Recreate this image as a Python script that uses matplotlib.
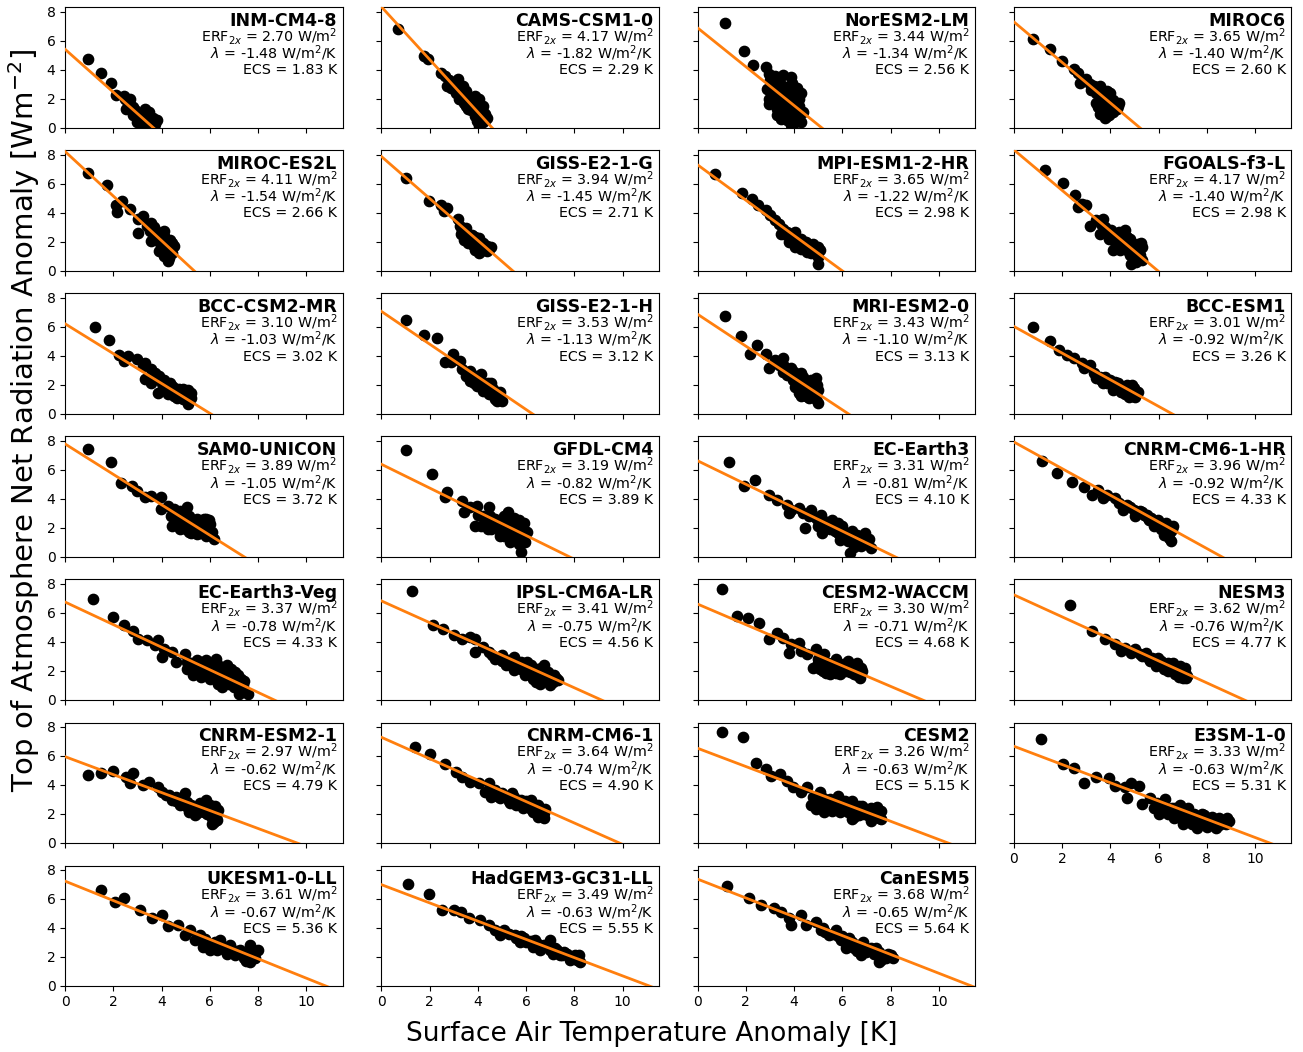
import matplotlib.pyplot as plt
import numpy as np

models = ['INM-CM4-8', 'CAMS-CSM1-0', 'NorESM2-LM', 'MIROC6',
          'MIROC-ES2L', 'GISS-E2-1-G', 'MPI-ESM1-2-HR', 'FGOALS-f3-L',
          'BCC-CSM2-MR', 'GISS-E2-1-H', 'MRI-ESM2-0', 'BCC-ESM1',
          'SAM0-UNICON', 'GFDL-CM4', 'EC-Earth3', 'CNRM-CM6-1-HR',
          'EC-Earth3-Veg', 'IPSL-CM6A-LR', 'CESM2-WACCM', 'NESM3',
          'CNRM-ESM2-1', 'CNRM-CM6-1', 'CESM2', 'E3SM-1-0',
          'UKESM1-0-LL', 'HadGEM3-GC31-LL', 'CanESM5']
erf2x = [2.70, 4.17, 3.44, 3.65, 4.11, 3.94, 3.65, 4.17, 3.10, 3.53, 3.43, 3.01,
         3.89, 3.19, 3.31, 3.96, 3.37, 3.41, 3.30, 3.62, 2.97, 3.64, 3.26, 3.33,
         3.61, 3.49, 3.68]
lam = [-1.48, -1.82, -1.34, -1.40, -1.54, -1.45, -1.22, -1.40, -1.03, -1.13, -1.10, -0.92,
       -1.05, -0.82, -0.81, -0.92, -0.78, -0.75, -0.71, -0.76, -0.62, -0.74, -0.63, -0.63,
       -0.67, -0.63, -0.65]
ecs = [1.83, 2.29, 2.56, 2.60, 2.66, 2.71, 2.98, 2.98, 3.02, 3.12, 3.13, 3.26,
       3.72, 3.89, 4.10, 4.33, 4.33, 4.56, 4.68, 4.77, 4.79, 4.90, 5.15, 5.31,
       5.36, 5.55, 5.64]

# (surface air temperature anomaly [K], TOA net radiation anomaly [W/m2]) per model
points = [
    # INM-CM4-8
    [(0.96, 4.72), (1.48, 3.76), (1.91, 3.11), (2.09, 2.24), (2.43, 2.19), (2.6, 1.7), (2.8, 1.4),
     (2.87, 1.04), (3.05, 0.92), (3.13, 0.58), (3.3, 0.69), (3.4, 0.35), (3.56, 0.12), (3.65, 0.69),
     (3.74, 0.23), (3.22, 0.12), (2.96, 0.35), (3.48, 1.04), (2.7, 1.96), (2.52, 1.27), (3.3, 1.27),
     (3.8, 0.5), (2.5, 2.0), (2.7, 1.6), (2.9, 1.2), (3.1, 0.9), (3.2, 0.5), (3.4, 0.8), (3.5, 0.4),
     (3.6, 0.2), (3.7, 0.1), (3.35, 0.05), (3.0, 0.6), (2.8, 0.9), (3.55, 0.55)],
    # CAMS-CSM1-0
    [(0.7, 6.8), (1.77, 4.95), (1.95, 4.72), (2.47, 3.80), (2.64, 3.57), (2.73, 2.88), (3.0, 3.11),
     (3.17, 3.34), (3.25, 2.76), (3.08, 2.42), (3.34, 2.19), (3.5, 2.53), (3.69, 1.96), (3.86, 2.19),
     (4.03, 1.96), (4.21, 1.5), (4.3, 0.92), (4.21, 0.35), (4.03, 0.12), (3.86, 0.81), (3.6, 1.27),
     (3.77, 1.5), (3.43, 1.73), (4.12, 1.04), (3.95, 0.46), (4.38, 0.69), (2.8, 3.3), (2.9, 2.7),
     (3.1, 2.7), (3.3, 2.5), (3.4, 2.9), (3.6, 2.2), (3.7, 1.7), (3.9, 1.7), (4.0, 1.4), (4.1, 0.8),
     (4.2, 1.1), (4.3, 0.5), (3.9, 1.1), (3.7, 1.2), (4.1, 0.3), (3.5, 1.5), (3.2, 2.0)],
    # NorESM2-LM
    [(1.15, 7.21), (1.92, 5.30), (2.31, 4.31), (2.82, 4.15), (2.94, 3.69), (3.19, 3.57), (3.53, 3.62),
     (3.87, 3.46), (4.13, 2.76), (4.30, 2.42), (4.21, 1.96), (4.38, 1.04), (4.30, 0.35), (3.87, 0.16),
     (3.45, 0.58), (3.28, 1.27), (2.94, 1.96), (2.89, 2.65), (3.1, 2.9), (3.53, 2.88), (3.8, 2.19),
     (3.53, 1.73), (3.87, 1.5), (3.96, 0.8), (3.6, 0.9), (3.28, 1.96), (3.7, 2.53), (4.04, 1.96),
     (3.1, 2.2), (3.36, 3.23), (3.0, 3.3), (3.2, 3.0), (3.4, 2.6), (3.6, 2.4), (3.9, 2.8), (4.1, 2.3),
     (3.0, 2.5), (3.2, 1.6), (3.4, 1.3), (3.7, 1.2), (4.0, 1.2), (4.2, 0.6), (4.0, 0.3), (3.7, 0.5),
     (3.5, 2.0), (3.9, 3.1), (4.2, 1.5), (3.3, 0.9), (2.95, 1.6)],
    # MIROC6
    [(0.80, 6.11), (1.49, 5.41), (2.0, 4.61), (2.48, 4.03), (2.65, 3.80), (2.99, 3.34), (3.16, 3.0),
     (2.74, 3.11), (3.33, 2.88), (3.59, 2.88), (3.5, 2.42), (3.68, 2.19), (3.85, 2.53), (3.93, 1.96),
     (4.02, 1.61), (4.19, 1.73), (4.27, 1.27), (4.1, 1.04), (3.85, 0.81), (3.59, 0.92), (3.68, 1.38),
     (3.42, 1.73), (4.36, 1.73), (3.93, 1.27), (3.76, 0.69), (3.2, 2.6), (3.4, 2.4), (3.6, 2.6),
     (3.7, 1.9), (3.8, 1.6), (3.9, 2.2), (4.0, 1.3), (4.1, 1.9), (4.2, 1.5), (3.95, 0.9), (3.7, 1.1),
     (3.5, 1.4), (4.3, 1.5), (4.0, 2.4)],
    # MIROC-ES2L
    [(0.96, 6.75), (1.74, 5.94), (2.09, 4.56), (2.17, 4.03), (2.35, 4.79), (2.7, 4.22), (3.04, 3.53),
     (3.22, 3.76), (3.04, 2.60), (3.39, 3.06), (3.57, 3.29), (3.74, 2.83), (3.91, 2.60), (3.83, 2.14),
     (4.09, 2.37), (4.17, 1.91), (4.0, 1.68), (4.26, 1.45), (4.17, 0.99), (4.26, 0.65), (4.43, 1.22),
     (4.52, 1.68), (3.91, 1.34), (4.09, 0.99), (3.57, 2.03), (4.35, 2.14), (3.7, 3.0), (3.8, 2.4),
     (4.0, 2.2), (4.1, 2.7), (4.2, 2.2), (4.3, 1.8), (4.4, 1.5), (4.1, 1.4), (4.2, 1.2), (4.3, 0.9),
     (3.95, 1.9), (4.45, 1.9), (3.5, 2.7)],
    # GISS-E2-1-G
    [(1.04, 6.41), (1.98, 4.79), (2.47, 4.56), (2.73, 4.33), (2.61, 4.10), (3.17, 3.53), (3.25, 3.06),
     (3.34, 2.72), (3.5, 2.95), (3.6, 2.37), (3.43, 2.14), (3.69, 1.91), (3.86, 2.14), (4.03, 2.26),
     (4.21, 1.91), (4.38, 1.68), (4.56, 1.62), (4.21, 1.45), (3.86, 1.45), (4.03, 1.22), (4.38, 1.33),
     (3.77, 2.49), (3.3, 2.5), (3.5, 2.6), (3.6, 2.1), (3.8, 1.8), (3.9, 2.3), (4.0, 1.7), (4.1, 2.0),
     (4.2, 1.7), (4.3, 1.5), (4.45, 1.5), (4.1, 1.35), (3.6, 1.9), (3.95, 1.55)],
    # MPI-ESM1-2-HR
    [(0.73, 6.64), (1.83, 5.37), (2.26, 4.91), (2.51, 4.52), (2.85, 4.17), (3.02, 3.82), (3.19, 3.48),
     (3.36, 3.25), (3.53, 2.9), (3.45, 2.56), (3.7, 2.67), (3.87, 2.33), (4.04, 2.67), (4.13, 2.21),
     (4.04, 1.64), (4.38, 1.98), (4.55, 1.75), (4.63, 1.41), (4.8, 1.87), (4.89, 1.41), (5.06, 1.41),
     (4.97, 0.94), (4.97, 0.48), (4.72, 1.18), (4.29, 1.52), (3.79, 1.98), (3.6, 2.5), (3.8, 2.5),
     (4.0, 2.3), (4.2, 1.9), (4.3, 2.2), (4.5, 2.0), (4.6, 1.6), (4.7, 1.5), (4.85, 1.6), (4.95, 1.2),
     (5.0, 1.65), (4.55, 1.3), (4.2, 1.7), (4.1, 1.8)],
    # FGOALS-f3-L
    [(1.28, 6.94), (2.05, 6.08), (2.53, 5.21), (2.65, 4.40), (2.82, 4.63), (2.99, 4.52), (3.16, 3.06),
     (3.42, 3.48), (3.68, 3.59), (3.76, 3.02), (3.59, 2.56), (4.02, 2.79), (3.93, 2.21), (4.19, 2.33),
     (4.36, 2.67), (4.62, 2.79), (4.7, 2.33), (4.87, 1.98), (5.13, 1.87), (5.3, 1.64), (5.04, 1.41),
     (5.21, 1.06), (4.96, 0.83), (5.3, 0.71), (4.7, 1.41), (4.36, 1.75), (4.1, 1.41), (4.87, 0.48),
     (4.53, 2.1), (3.6, 3.2), (3.8, 2.7), (4.0, 2.5), (4.2, 2.0), (4.3, 2.4), (4.5, 2.3), (4.6, 1.9),
     (4.8, 2.2), (4.9, 1.6), (5.0, 1.8), (5.1, 1.4), (5.2, 1.2), (5.1, 0.9), (4.8, 1.1), (4.6, 1.5),
     (4.4, 1.4), (5.25, 1.9), (4.95, 1.2), (5.05, 0.6)],
    # BCC-CSM2-MR
    [(1.22, 6.01), (1.83, 5.07), (2.23, 4.03), (2.43, 3.64), (2.61, 3.99), (2.96, 3.76), (3.22, 3.29),
     (3.3, 3.52), (3.3, 2.42), (3.57, 3.06), (3.74, 2.83), (3.91, 2.60), (4.0, 2.14), (3.83, 1.45),
     (4.17, 1.68), (4.35, 2.14), (4.43, 1.91), (4.61, 1.68), (4.78, 1.57), (4.96, 1.45), (5.13, 1.22),
     (5.22, 1.45), (5.1, 0.65), (4.87, 0.99), (4.26, 1.34), (4.52, 1.22), (3.57, 2.14), (3.9, 2.4),
     (4.1, 2.3), (4.3, 1.9), (4.5, 1.8), (4.4, 1.5), (4.7, 1.7), (4.8, 1.3), (4.9, 1.7), (5.0, 1.1),
     (5.1, 1.6), (5.2, 1.1), (4.65, 1.1), (3.7, 2.5), (4.05, 1.9)],
    # GISS-E2-1-H
    [(1.04, 6.47), (1.77, 5.41), (2.3, 5.25), (2.96, 4.1), (2.64, 3.53), (2.9, 3.53), (3.25, 3.64),
     (3.34, 3.06), (3.5, 2.60), (3.69, 2.95), (3.86, 2.60), (4.03, 2.26), (3.95, 1.91), (4.21, 2.14),
     (4.38, 1.91), (4.56, 2.14), (4.64, 1.68), (4.82, 1.45), (4.9, 1.11), (4.99, 0.88), (4.73, 0.99),
     (4.47, 1.34), (4.21, 1.57), (3.69, 2.26), (4.12, 2.72), (3.6, 2.7), (3.8, 2.4), (4.0, 2.4),
     (4.1, 2.0), (4.3, 1.8), (4.4, 2.1), (4.5, 1.6), (4.6, 1.4), (4.7, 1.2), (4.85, 1.2), (4.9, 1.5),
     (4.4, 1.55), (4.8, 0.85), (3.85, 2.1)],
    # MRI-ESM2-0
    [(1.12, 6.77), (1.8, 5.39), (2.17, 4.12), (2.48, 4.75), (2.85, 4.10), (2.94, 3.13), (3.19, 3.71),
     (3.36, 3.36), (3.53, 3.82), (3.53, 2.90), (3.7, 2.67), (3.87, 3.13), (3.96, 2.33), (4.13, 2.10),
     (4.3, 2.79), (4.38, 2.56), (4.38, 1.87), (4.21, 1.41), (4.55, 1.64), (4.63, 1.06), (4.8, 1.18),
     (4.89, 2.44), (4.97, 1.64), (4.97, 0.71), (4.8, 1.98), (4.04, 1.87), (3.6, 3.3), (3.8, 2.7),
     (3.9, 2.5), (4.0, 2.9), (4.2, 2.3), (4.3, 2.1), (4.5, 2.2), (4.4, 1.6), (4.6, 1.9), (4.7, 1.4),
     (4.8, 1.6), (4.9, 1.0), (4.5, 1.2), (4.7, 2.3), (4.95, 2.0), (4.3, 1.2)],
    # BCC-ESM1
    [(0.80, 5.97), (1.49, 4.98), (1.88, 4.40), (2.22, 4.06), (2.48, 3.82), (2.82, 3.48), (2.91, 3.13),
     (3.16, 3.36), (3.33, 2.79), (3.59, 2.56), (3.76, 2.56), (3.85, 2.10), (4.02, 2.10), (4.19, 2.21),
     (4.36, 1.98), (4.53, 1.87), (4.7, 1.75), (4.96, 1.75), (5.13, 1.52), (5.04, 1.18), (4.79, 1.18),
     (4.44, 1.52), (4.1, 1.64), (3.68, 2.10), (3.42, 2.44), (3.6, 2.3), (3.9, 2.3), (4.1, 1.9),
     (4.3, 2.1), (4.4, 1.7), (4.6, 1.65), (4.7, 1.95), (4.85, 1.5), (4.9, 1.95), (5.05, 1.4),
     (4.6, 1.35), (4.95, 1.25), (4.0, 2.35)],
    # SAM0-UNICON
    [(0.96, 7.44), (1.91, 6.57), (2.31, 5.09), (2.78, 4.91), (2.96, 4.56), (3.3, 4.10), (3.57, 4.22),
     (3.97, 4.10), (3.97, 3.29), (4.26, 3.53), (4.52, 3.29), (4.78, 3.18), (5.04, 3.41), (4.61, 2.72),
     (4.96, 2.49), (4.78, 1.91), (5.13, 1.68), (5.39, 2.14), (5.48, 2.60), (5.83, 2.60), (6.0, 2.26),
     (6.09, 1.68), (5.83, 1.45), (5.48, 1.57), (5.3, 2.37), (5.65, 2.14), (6.17, 1.22), (4.43, 2.14),
     (5.13, 2.83), (4.4, 2.8), (4.6, 3.1), (4.8, 2.7), (4.9, 2.2), (5.0, 1.9), (5.1, 2.5), (5.2, 2.1),
     (5.3, 1.8), (5.4, 2.4), (5.6, 2.4), (5.7, 1.8), (5.9, 2.0), (6.0, 1.5), (5.6, 1.6), (5.2, 1.6),
     (5.95, 2.5), (5.75, 2.6), (4.7, 2.3)],
    # GFDL-CM4
    [(1.04, 7.33), (2.09, 5.71), (2.64, 4.10), (2.73, 4.45), (3.34, 3.87), (3.69, 3.41), (3.43, 3.06),
     (3.95, 3.53), (3.86, 2.14), (4.21, 2.83), (4.38, 2.37), (4.47, 3.41), (4.56, 1.91), (4.73, 2.60),
     (4.99, 2.14), (5.08, 2.83), (5.25, 1.68), (5.43, 2.37), (5.51, 1.22), (5.6, 1.91), (5.77, 2.14),
     (5.86, 1.45), (5.95, 0.99), (5.77, 0.35), (5.69, 0.88), (6.03, 1.68), (5.34, 0.99), (4.9, 1.45),
     (4.12, 2.14), (5.25, 3.06), (4.0, 2.9), (4.3, 2.6), (4.5, 2.8), (4.6, 2.2), (4.8, 2.3), (4.9, 1.8),
     (5.0, 2.5), (5.1, 1.9), (5.2, 2.3), (5.3, 2.6), (5.4, 1.6), (5.5, 2.0), (5.6, 1.5), (5.7, 1.7),
     (5.8, 1.2), (5.9, 1.8), (5.5, 2.7), (5.1, 1.4), (4.4, 1.9), (5.9, 2.3), (5.7, 2.5)],
    # EC-Earth3
    [(1.29, 6.54), (1.92, 4.91), (2.38, 5.28), (2.94, 4.29), (3.28, 3.94), (3.7, 3.59), (3.87, 3.25),
     (3.79, 3.02), (4.21, 3.36), (4.38, 3.02), (4.47, 1.98), (4.72, 3.25), (4.89, 2.67), (4.97, 2.10),
     (5.23, 2.44), (5.4, 2.33), (5.57, 2.56), (5.65, 2.10), (5.82, 1.64), (5.99, 2.10), (6.16, 1.41),
     (6.25, 1.06), (6.42, 1.52), (6.59, 1.18), (6.76, 0.71), (6.93, 1.64), (7.01, 1.06), (7.18, 0.60),
     (6.33, 0.25), (5.91, 1.18), (5.14, 1.64), (4.6, 2.8), (5.0, 2.5), (5.1, 2.9), (5.3, 2.1),
     (5.5, 1.9), (5.7, 1.8), (5.9, 1.6), (6.0, 1.9), (6.1, 1.6), (6.3, 1.3), (6.4, 1.8), (6.5, 1.1),
     (6.6, 1.5), (6.7, 0.9), (6.85, 1.3), (6.9, 0.9), (7.1, 1.2), (6.5, 0.7), (5.8, 2.3), (5.5, 2.2)],
    # CNRM-CM6-1-HR
    [(1.15, 6.6), (1.79, 5.80), (2.39, 5.18), (2.91, 4.84), (3.25, 4.27), (3.5, 4.61), (3.85, 4.27),
     (4.19, 4.04), (4.36, 3.71), (4.7, 3.59), (4.96, 3.25), (5.21, 3.13), (5.38, 2.90), (5.56, 2.67),
     (5.73, 2.56), (5.98, 2.56), (6.15, 2.21), (6.32, 1.98), (6.5, 1.75), (6.5, 1.06), (6.24, 1.52),
     (6.58, 2.10), (5.81, 2.10), (5.04, 2.79), (4.53, 3.25), (3.68, 4.04), (4.8, 3.4), (5.1, 3.0),
     (5.3, 3.1), (5.5, 2.85), (5.7, 2.7), (5.9, 2.4), (6.0, 2.2), (6.2, 2.0), (6.3, 2.3), (6.4, 1.7),
     (6.45, 1.3), (6.1, 1.9), (5.6, 2.5), (6.55, 1.9)],
    # EC-Earth3-Veg
    [(1.17, 6.94), (1.97, 5.71), (2.43, 5.18), (2.83, 4.72), (3.04, 4.22), (3.39, 4.10), (3.83, 4.10),
     (3.74, 3.76), (4.09, 3.53), (4.0, 2.95), (4.43, 3.29), (4.96, 3.18), (5.04, 2.14), (4.61, 2.60),
     (5.48, 2.76), (5.65, 2.60), (5.83, 2.72), (6.0, 2.26), (6.26, 2.83), (6.35, 2.37), (6.43, 1.91),
     (5.65, 1.57), (6.0, 1.45), (6.35, 1.11), (6.70, 2.37), (6.87, 2.14), (7.04, 1.91), (7.30, 1.45),
     (7.39, 0.99), (7.22, 0.41), (7.57, 0.41), (6.78, 1.11), (6.52, 0.88), (5.3, 1.68), (5.04, 2.60),
     (5.2, 2.5), (5.4, 2.3), (5.6, 2.2), (5.8, 2.3), (5.9, 1.9), (6.1, 2.0), (6.2, 1.6), (6.4, 1.5),
     (6.6, 1.9), (6.7, 1.6), (6.8, 1.5), (6.9, 1.8), (7.1, 1.4), (7.2, 1.1), (7.0, 0.9), (7.35, 0.7),
     (6.6, 1.3), (7.4, 1.3), (7.15, 1.7), (6.15, 2.5)],
    # IPSL-CM6A-LR
    [(1.25, 7.49), (2.12, 5.18), (2.56, 4.91), (3.0, 4.45), (3.34, 4.22), (3.69, 4.33), (3.86, 4.22),
     (3.86, 3.29), (4.21, 3.64), (4.47, 3.29), (4.73, 2.83), (4.99, 3.06), (5.25, 2.72), (5.51, 2.95),
     (5.6, 2.49), (5.77, 2.14), (6.03, 2.60), (6.21, 2.37), (6.47, 2.14), (6.73, 2.37), (6.9, 1.91),
     (6.82, 1.45), (7.17, 1.68), (7.34, 1.34), (6.99, 0.99), (6.56, 1.11), (5.95, 1.68), (6.3, 1.45),
     (5.51, 2.03), (5.16, 2.37), (4.6, 3.1), (5.0, 2.7), (5.3, 2.5), (5.4, 2.3), (5.6, 2.2), (5.8, 2.6),
     (5.9, 2.0), (6.1, 2.1), (6.2, 1.8), (6.4, 1.9), (6.5, 1.6), (6.6, 2.2), (6.7, 1.7), (6.8, 2.0),
     (6.9, 1.3), (7.0, 1.6), (7.1, 1.2), (7.25, 1.5), (6.4, 1.2), (6.0, 2.3)],
    # CESM2-WACCM
    [(1.02, 7.67), (1.63, 5.78), (2.09, 5.67), (2.55, 5.28), (2.94, 4.17), (3.28, 4.59), (3.53, 4.29),
     (3.79, 3.25), (3.87, 3.83), (4.21, 3.94), (4.3, 3.36), (4.55, 3.13), (4.89, 3.48), (4.97, 2.79),
     (5.06, 2.10), (5.23, 3.13), (5.4, 2.56), (5.48, 1.98), (5.74, 2.79), (5.91, 2.10), (6.08, 2.44),
     (6.25, 2.67), (6.42, 2.10), (6.59, 2.56), (6.76, 2.21), (6.73, 1.52), (6.5, 1.75), (5.74, 1.87),
     (5.31, 1.87), (4.8, 2.21), (5.0, 2.5), (5.2, 2.3), (5.3, 2.1), (5.5, 2.3), (5.6, 2.5), (5.7, 2.1),
     (5.8, 2.5), (6.0, 2.3), (6.1, 2.0), (6.2, 2.3), (6.3, 1.9), (6.4, 2.4), (6.5, 2.0), (6.6, 2.2),
     (6.7, 1.9), (6.8, 2.0), (6.6, 1.7), (5.5, 1.8), (5.9, 1.8), (5.2, 2.0)],
    # NESM3
    [(2.31, 6.54), (3.25, 4.75), (3.76, 4.17), (4.19, 3.82), (4.62, 3.59), (5.04, 3.48), (5.21, 3.13),
     (5.47, 3.25), (5.73, 2.90), (5.98, 2.90), (6.15, 2.56), (6.41, 2.56), (6.58, 2.33), (6.75, 2.21),
     (6.92, 1.98), (7.09, 2.21), (7.18, 1.64), (7.01, 1.52), (6.67, 1.75), (6.24, 2.10), (5.64, 2.67),
     (4.87, 3.25), (4.44, 3.36), (5.3, 3.0), (5.6, 2.8), (5.9, 2.6), (6.1, 2.7), (6.3, 2.3), (6.5, 2.1),
     (6.6, 2.5), (6.7, 2.0), (6.8, 1.8), (6.9, 2.3), (7.0, 1.8), (7.1, 1.9), (7.15, 1.5), (6.85, 1.55),
     (6.4, 1.95), (5.9, 2.3)],
    # CNRM-ESM2-1
    [(0.96, 4.68), (1.48, 4.79), (1.97, 4.95), (2.52, 4.56), (2.83, 4.79), (2.70, 4.10), (3.22, 3.99),
     (3.48, 4.22), (3.83, 3.87), (4.0, 3.53), (4.17, 3.29), (4.43, 2.95), (4.61, 3.18), (4.96, 3.41),
     (5.04, 2.83), (5.13, 2.14), (5.3, 2.37), (5.57, 2.72), (5.83, 2.95), (6.0, 2.60), (6.09, 2.14),
     (6.26, 1.80), (6.17, 1.45), (6.35, 2.26), (5.74, 2.14), (5.48, 2.03), (4.78, 2.60), (4.3, 3.3),
     (4.6, 2.9), (4.8, 2.8), (5.0, 2.5), (5.2, 2.6), (5.3, 2.1), (5.5, 2.4), (5.6, 2.2), (5.7, 2.5),
     (5.8, 2.3), (5.9, 2.0), (6.0, 1.9), (6.1, 1.7), (6.2, 2.5), (6.3, 1.6), (6.1, 1.3), (5.4, 1.9),
     (6.25, 2.0)],
    # CNRM-CM6-1
    [(1.39, 6.64), (2.03, 6.11), (2.64, 5.41), (3.08, 4.91), (3.34, 4.56), (3.69, 4.22), (4.03, 4.10),
     (4.47, 4.10), (4.56, 3.18), (4.73, 3.64), (4.99, 3.41), (5.25, 3.06), (5.51, 3.18), (5.77, 2.95),
     (5.95, 2.72), (6.21, 2.95), (6.38, 2.60), (6.56, 2.37), (6.73, 2.03), (6.73, 1.68), (6.3, 2.14),
     (5.86, 2.37), (5.34, 2.72), (4.9, 3.06), (4.29, 3.53), (4.8, 3.2), (5.1, 3.2), (5.3, 2.9),
     (5.5, 2.8), (5.6, 2.6), (5.7, 2.7), (5.9, 2.5), (6.0, 2.9), (6.1, 2.6), (6.2, 2.3), (6.3, 2.4),
     (6.4, 2.1), (6.5, 2.6), (6.6, 2.2), (6.65, 1.9), (6.5, 1.8), (6.8, 2.3), (5.4, 3.4)],
    # CESM2
    [(1.02, 7.67), (1.87, 7.28), (2.43, 5.51), (2.82, 5.09), (3.06, 4.63), (3.40, 4.75), (3.70, 4.29),
     (3.96, 3.82), (4.30, 3.48), (4.55, 3.83), (4.80, 3.13), (4.89, 2.33), (5.06, 3.48), (5.31, 2.79),
     (5.57, 2.21), (5.82, 3.25), (5.99, 2.67), (6.25, 2.10), (6.42, 2.90), (6.67, 2.56), (6.84, 2.21),
     (7.10, 1.87), (7.18, 1.52), (7.44, 2.44), (7.61, 2.21), (7.44, 1.87), (7.61, 1.64), (6.42, 1.64),
     (5.91, 2.10), (5.23, 2.10), (5.0, 2.8), (5.2, 3.1), (5.4, 2.5), (5.5, 3.0), (5.6, 2.5), (5.7, 2.9),
     (5.8, 2.3), (6.0, 2.4), (6.1, 2.9), (6.2, 2.6), (6.3, 2.3), (6.5, 2.3), (6.6, 2.1), (6.7, 1.9),
     (6.8, 2.5), (6.9, 2.0), (7.0, 2.3), (7.1, 2.1), (7.2, 2.4), (7.3, 1.9), (7.5, 1.7), (7.3, 2.2),
     (6.5, 1.8), (5.1, 2.4), (4.7, 2.6)],
    # E3SM-1-0
    [(1.11, 7.14), (2.05, 5.46), (2.51, 5.14), (2.91, 4.15), (3.42, 4.54), (3.93, 4.49), (4.19, 3.92),
     (4.70, 3.11), (4.62, 3.85), (4.87, 4.15), (5.18, 3.92), (5.30, 2.65), (5.64, 3.11), (5.95, 2.76),
     (6.25, 2.99), (6.55, 2.42), (6.65, 1.73), (6.9, 2.19), (7.2, 2.42), (7.45, 1.96), (7.6, 1.50),
     (7.8, 1.96), (8.05, 1.73), (8.3, 1.50), (8.5, 1.73), (8.7, 1.38), (8.85, 1.73), (8.4, 1.04),
     (7.6, 1.04), (7.25, 1.50), (6.4, 1.96), (6.2, 2.30), (5.8, 2.4), (6.0, 2.0), (6.3, 2.2), (6.5, 2.0),
     (6.7, 2.4), (6.8, 1.8), (7.0, 1.9), (7.1, 1.6), (7.3, 1.8), (7.4, 1.3), (7.6, 1.7), (7.7, 1.3),
     (7.9, 1.5), (8.0, 1.1), (8.1, 1.4), (8.2, 1.8), (8.5, 1.2), (8.6, 1.5), (8.8, 1.3), (8.9, 1.5),
     (7.0, 1.3), (7.9, 1.9), (6.9, 2.6)],
    # UKESM1-0-LL
    [(1.49, 6.62), (2.07, 5.79), (2.45, 6.07), (3.11, 5.24), (3.61, 4.69), (4.0, 4.9), (4.27, 4.14),
     (4.69, 4.21), (4.98, 3.52), (5.39, 3.17), (5.81, 2.97), (6.22, 2.83), (6.64, 2.48), (7.05, 2.14),
     (7.47, 2.14), (7.88, 1.93), (7.68, 2.83), (7.26, 2.48), (6.85, 2.83), (6.43, 3.17), (6.02, 2.48),
     (5.6, 3.52), (5.19, 3.86), (7.68, 1.66), (8.0, 2.48), (5.5, 3.3), (5.8, 3.2), (6.0, 2.8),
     (6.2, 3.0), (6.4, 2.7), (6.6, 2.7), (6.7, 2.2), (6.9, 2.5), (7.1, 2.4), (7.3, 2.2), (7.4, 1.9),
     (7.6, 2.3), (7.8, 2.1), (7.9, 2.4), (7.5, 1.7), (6.3, 2.5), (5.7, 2.7)],
    # HadGEM3-GC31-LL
    [(1.12, 7.03), (1.99, 6.34), (2.53, 5.24), (3.03, 5.24), (3.32, 5.10), (3.65, 4.69), (4.07, 4.55),
     (4.48, 4.21), (4.69, 3.86), (5.1, 3.86), (5.52, 3.52), (5.93, 3.31), (6.35, 3.17), (6.76, 2.83),
     (7.18, 2.62), (7.59, 2.34), (8.01, 2.14), (8.22, 1.66), (7.8, 1.79), (7.39, 2.14), (6.97, 3.17),
     (5.73, 3.03), (4.9, 3.52), (6.56, 2.48), (5.3, 3.6), (5.6, 3.3), (5.8, 3.4), (6.0, 3.0),
     (6.2, 3.1), (6.5, 2.9), (6.6, 2.6), (6.9, 2.8), (7.0, 2.5), (7.3, 2.5), (7.5, 2.1), (7.7, 2.2),
     (7.9, 2.0), (8.1, 1.8), (8.2, 2.1), (7.1, 2.2), (6.3, 2.7)],
    # CanESM5
    [(1.2, 6.90), (2.12, 6.07), (2.61, 5.59), (3.15, 5.38), (3.44, 5.10), (3.78, 4.69), (3.86, 4.21),
     (4.27, 4.90), (4.48, 4.21), (4.90, 4.41), (5.1, 3.86), (5.44, 3.52), (5.73, 3.86), (5.93, 3.17),
     (6.27, 3.31), (6.56, 2.83), (6.85, 3.03), (7.1, 2.48), (7.39, 2.62), (7.59, 2.14), (7.8, 1.93),
     (8.0, 2.14), (7.51, 1.66), (6.76, 2.14), (6.14, 2.62), (5.3, 3.7), (5.6, 3.6), (5.8, 3.4),
     (6.0, 3.4), (6.1, 3.0), (6.4, 3.0), (6.5, 2.6), (6.7, 2.8), (6.9, 2.6), (7.0, 2.3), (7.2, 2.6),
     (7.3, 2.2), (7.5, 2.3), (7.7, 2.0), (7.9, 2.2), (8.1, 1.9), (7.6, 1.8), (6.6, 2.4), (5.2, 4.0)],
]

fig, axes = plt.subplots(7, 4, figsize=(13.03, 10.52), sharex=True, sharey=True)
plt.subplots_adjust(left=0.050, right=0.991, top=0.993, bottom=0.063, wspace=0.14, hspace=0.19)

xfit = np.array([0, 11.5])
for i, name in enumerate(models):
    ax = axes.flat[i]
    pts = np.array(points[i])
    ax.scatter(pts[:, 0], pts[:, 1], s=55, color='black', zorder=2)
    ax.plot(xfit, 2 * erf2x[i] + lam[i] * xfit, color='#ff7f0e', lw=2, zorder=3)
    ax.text(0.98, 0.885, name, transform=ax.transAxes, ha='right', va='center',
            fontsize=12.5, fontweight='bold')
    ax.text(0.98, 0.755, r'ERF$_{2x}$ = %.2f W/m$^2$' % erf2x[i], transform=ax.transAxes,
            ha='right', va='center', fontsize=10.3)
    ax.text(0.98, 0.615, r'$\lambda$ = %.2f W/m$^2$/K' % lam[i], transform=ax.transAxes,
            ha='right', va='center', fontsize=10.3)
    ax.text(0.98, 0.475, 'ECS = %.2f K' % ecs[i], transform=ax.transAxes,
            ha='right', va='center', fontsize=10.3)

axes[6, 3].remove()
axes[5, 3].tick_params(labelbottom=True)

for ax in axes.flat[:27]:
    ax.set_xlim(0, 11.5)
    ax.set_ylim(0, 8.3)
    ax.set_xticks([0, 2, 4, 6, 8, 10])
    ax.set_yticks([0, 2, 4, 6, 8])
    ax.tick_params(labelsize=10)

fig.text(0.5, 0.005, 'Surface Air Temperature Anomaly [K]', ha='center', va='bottom', fontsize=19)
fig.text(0.005, 0.6, r'Top of Atmosphere Net Radiation Anomaly [Wm$^{-2}$]', rotation=90,
         ha='left', va='center', fontsize=21)

plt.savefig('out.png', dpi=100)
